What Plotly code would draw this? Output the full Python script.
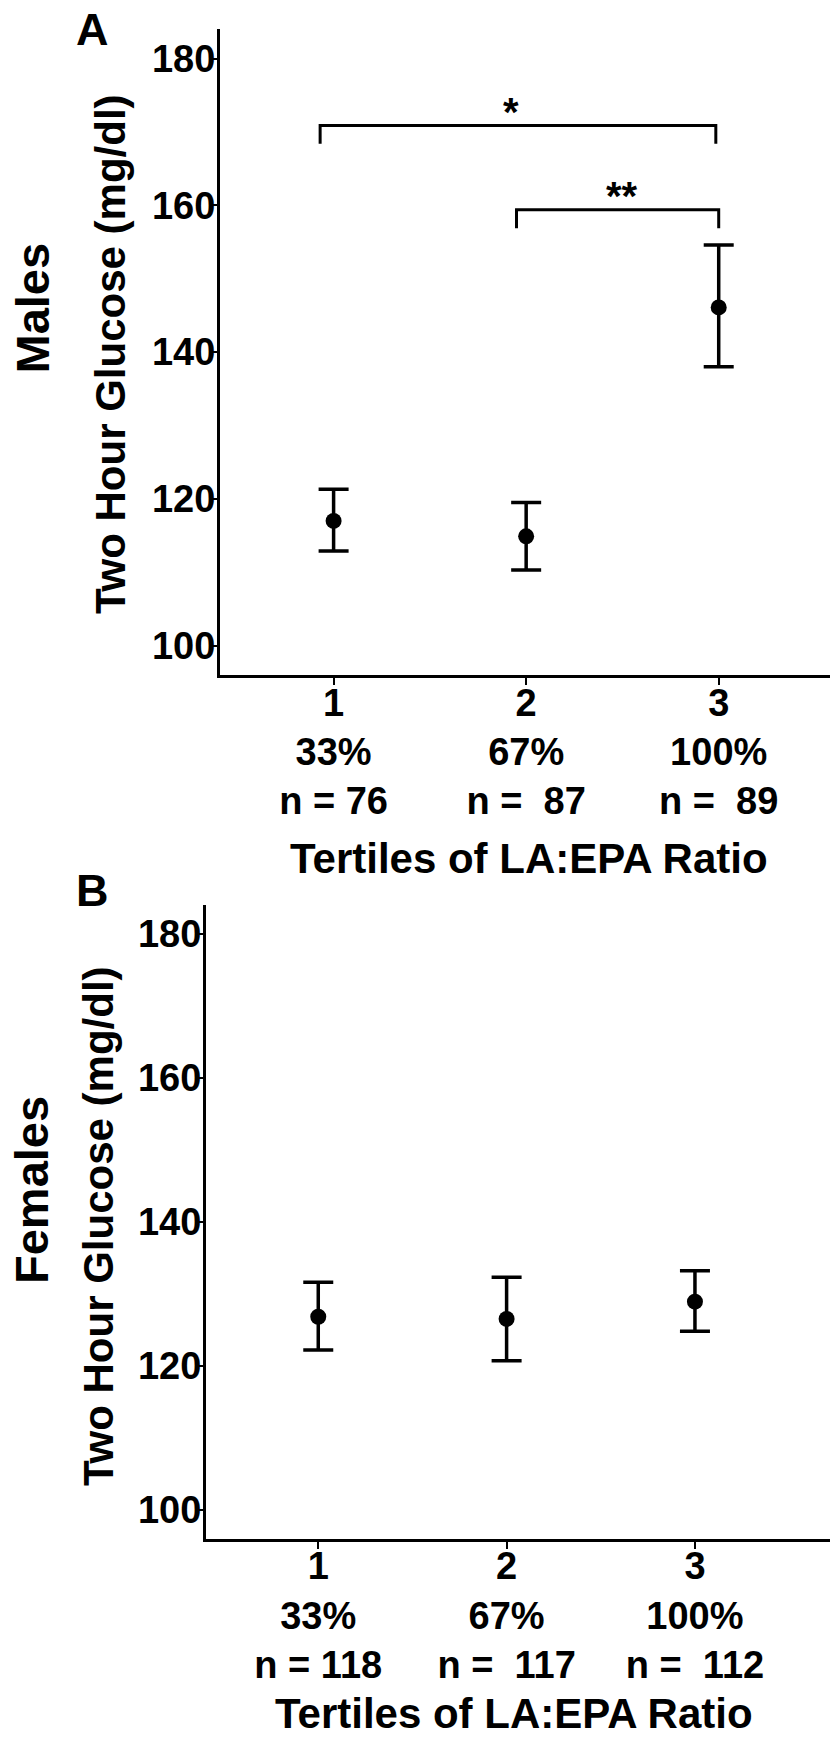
import plotly.graph_objects as go

W, H = 830, 1739

# ---------------- data ----------------
tertiles = [1, 2, 3]
tick_top = ["1", "2", "3"]
tick_pct = ["33%", "67%", "100%"]
n_males = ["n = 76", "n =  87", "n =  89"]
n_females = ["n = 118", "n =  117", "n =  112"]

males_mean = [117.0, 114.9, 146.1]
males_upper = [121.3, 119.5, 154.6]
males_lower = [112.9, 110.3, 138.0]

females_mean = [126.8, 126.5, 128.9]
females_upper = [131.6, 132.3, 133.2]
females_lower = [122.2, 120.7, 124.8]

y_ticks = [100, 120, 140, 160, 180]

# significance brackets (panel A): x-ends, [drop bottom, top], label
brk1_x = [0.93, 2.985]
brk1_y = [168.4, 170.9]
brk1_label = "*"
brk1_label_pos = [1.92, 173.2]
brk2_x = [1.95, 3.0]
brk2_y = [156.9, 159.4]
brk2_label = "**"
brk2_label_pos = [2.5, 161.7]

FONT = "Liberation Sans, Arial, Helvetica, sans-serif"


def nb(s):
    return s.replace("  ", " \u00a0")


tick_text_A = [f"{a}<br>{b}<br>{nb(c)}" for a, b, c in zip(tick_top, tick_pct, n_males)]
tick_text_B = [f"{a}<br>{b}<br>{nb(c)}" for a, b, c in zip(tick_top, tick_pct, n_females)]

fig = go.Figure()


def add_panel(mean, upper, lower, xa, ya):
    fig.add_trace(go.Scatter(
        x=tertiles, y=mean, mode="markers",
        marker=dict(color="black", size=16),
        error_y=dict(type="data", symmetric=False,
                     array=[u - m for u, m in zip(upper, mean)],
                     arrayminus=[m - l for m, l in zip(mean, lower)],
                     color="black", thickness=3.5, width=15),
        xaxis=xa, yaxis=ya, showlegend=False, hoverinfo="skip"))


add_panel(males_mean, males_upper, males_lower, "x", "y")
add_panel(females_mean, females_upper, females_lower, "x2", "y2")

for bx, by in [(brk1_x, brk1_y), (brk2_x, brk2_y)]:
    fig.add_trace(go.Scatter(
        x=[bx[0], bx[0], bx[1], bx[1]], y=[by[0], by[1], by[1], by[0]],
        mode="lines", line=dict(color="black", width=3),
        xaxis="x", yaxis="y", showlegend=False, hoverinfo="skip"))

axis_common = dict(showline=True, linecolor="black", linewidth=3,
                   ticks="outside", ticklen=7, tickwidth=2, tickcolor="black",
                   showgrid=False, zeroline=False, mirror=False)

xtick_font = dict(size=38, weight="bold", family=FONT, color="black")
ytick_font = dict(size=38, weight="bold", family=FONT, color="black")

A_left, A_top, A_bottom = 220, 29.3, 675
B_left, B_top, B_bottom = 206, 905, 1538.5

fig.update_layout(
    width=W, height=H,
    margin=dict(l=0, r=0, t=0, b=0),
    paper_bgcolor="white", plot_bgcolor="white",
    font=dict(family=FONT, color="black"),
    xaxis=dict(domain=[A_left / W, 1], range=[0.41, 3.578],
               tickvals=tertiles, ticktext=tick_text_A, tickfont=xtick_font,
               ticklabelstandoff=-15, anchor="y", **axis_common),
    yaxis=dict(domain=[1 - A_bottom / H, 1 - A_top / H], range=[96, 184],
               tickvals=y_ticks, tickfont=ytick_font, ticklabelstandoff=-13,
               anchor="x", **axis_common),
    xaxis2=dict(domain=[B_left / W, 1], range=[0.404, 3.717],
                tickvals=tertiles, ticktext=tick_text_B, tickfont=xtick_font,
                ticklabelstandoff=-15, anchor="y2", **axis_common),
    yaxis2=dict(domain=[1 - B_bottom / H, 1 - B_top / H], range=[96, 184],
                tickvals=y_ticks, tickfont=ytick_font, ticklabelstandoff=-13,
                anchor="x2", **axis_common),
)

ann = []


def text(x, y, s, size, angle=0, xref="paper", yref="paper", yshift=0, yanchor="middle"):
    ann.append(dict(x=x, y=y, xref=xref, yref=yref, text=s, showarrow=False,
                    textangle=angle, xanchor="center", yanchor=yanchor,
                    yshift=yshift,
                    font=dict(size=size, weight="bold", family=FONT, color="black")))


# panel tags
text(92 / W, 1 - 29.5 / H, "A", 45)
text(92.5 / W, 1 - 890 / H, "B", 45)
# row labels
text(31.5 / W, 1 - 308 / H, "Males", 47, angle=-90)
text(31 / W, 1 - 1190 / H, "Females", 47, angle=-90)
# y titles
text(110 / W, 1 - 354 / H, "Two Hour Glucose (mg/dl)", 42, angle=-90)
text(98 / W, 1 - 1226 / H, "Two Hour Glucose (mg/dl)", 42, angle=-90)
# x titles
text(529 / W, 1 - 858 / H, "Tertiles of LA:EPA Ratio", 42)
text(514 / W, 0, "Tertiles of LA:EPA Ratio", 42, yanchor="bottom")

# significance stars
text(brk1_label_pos[0], brk1_label_pos[1], brk1_label, 40, xref="x", yref="y", yshift=-3)
text(brk2_label_pos[0], brk2_label_pos[1], brk2_label, 40, xref="x", yref="y", yshift=-3)

fig.update_layout(annotations=ann)

fig.write_html("out.html")
